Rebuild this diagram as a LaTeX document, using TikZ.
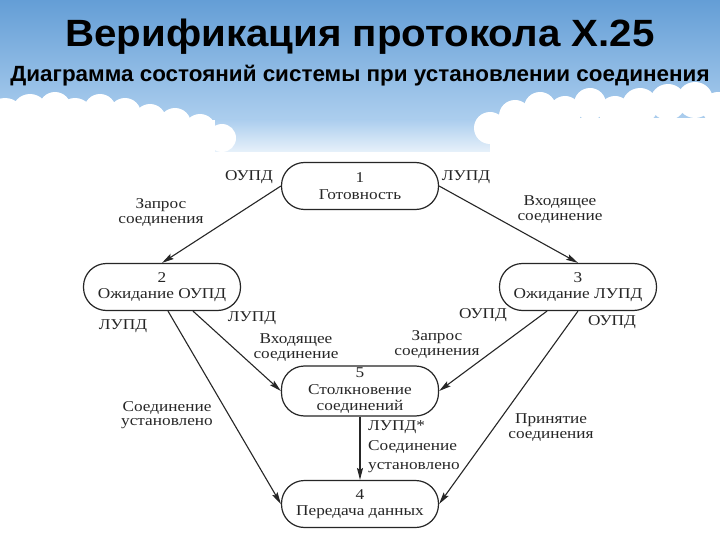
\documentclass[tikz,border=0pt]{standalone}
\usepackage{fontspec}
\setmainfont[FakeStretch=1.15]{Liberation Serif}
\newfontfamily\headfont[FakeStretch=1.06]{Liberation Sans}
\newfontfamily\subheadfont[FakeStretch=1.02]{Liberation Sans}
\usetikzlibrary{arrows.meta, positioning}
\definecolor{skyblue}{RGB}{100,158,214}
\definecolor{skylight}{RGB}{172,206,238}
\definecolor{inkdark}{HTML}{262626}
\tikzset{
  state/.style={rectangle, rounded corners=23pt, minimum width=157pt, minimum height=47pt,
    draw=inkdark, line width=1.2pt, fill=white, inner sep=0pt, align=center,
    font=\fontsize{15}{16.5}\selectfont, text=inkdark},
  lbl/.style={align=center, inner sep=0pt, font=\fontsize{15}{15}\selectfont, text=inkdark},
  arr/.style={-{Stealth[length=12pt, width=6pt, inset=2pt]}, line width=1.1pt, inkdark},
  cloud/.style={fill=white},
}

\begin{document}
\begin{tikzpicture}[x=1pt, y=-1pt]
  \useasboundingbox (0,0) rectangle (720,540);
  % sky and clouds
  \fill[white] (0,0) rectangle (720,540);
  \shade[top color=skyblue, bottom color=skylight] (0,0) rectangle (720,120);
  \shade[top color=skylight, bottom color=white] (0,120) rectangle (720,165);
  \foreach \cx/\cy/\r in {5/118/20, 30/112/18, 55/108/16, 75/116/18, 100/110/16, 125/114/16,
                          150/120/16, 175/124/16, 200/130/16, 222/138/14,
                          490/128/16, 515/116/16, 540/108/16, 565/112/16, 590/104/16, 615/112/16,
                          640/106/18, 668/102/18, 695/100/18, 718/108/16}
    \fill[cloud] (\cx,\cy) circle (\r);
  \fill[cloud] (0,120) rectangle (215,160);
  \fill[cloud] (490,118) rectangle (720,160);
  \fill[white] (0,152) rectangle (720,540);

  \node[anchor=base, font=\headfont\bfseries\fontsize{38}{40}\selectfont] (title) at (360,47) {Верификация протокола X.25};
  \node[anchor=base, font=\subheadfont\bfseries\fontsize{22}{24}\selectfont] (subtitle) at (360,82) {Диаграмма состояний системы при установлении соединения};

  % states
  \node[state] (ready) at (360,186) {1\\Готовность};
  \node[state] (waitout) at (162,287) {2\\Ожидание ОУПД};
  \node[state] (waitin) at (578,287) {3\\Ожидание ЛУПД};
  \node[state, minimum height=50pt] (clash) at (360,391) {5\\Столкновение\\соединений};
  \node[state] (data) at (360,504) {4\\Передача данных};

  % labels
  \node[lbl] (rdyout) at (249,177) {ОУПД};
  \node[lbl] (rdyreq) at (161,212) {Запрос\\соединения};
  \node[lbl] (rdyin) at (466,177) {ЛУПД};
  \node[lbl] (rdyinc) at (560,210) {Входящее\\соединение};
  \node[lbl] (wodone) at (123,326) {ЛУПД};
  \node[lbl] (woin) at (252,318) {ЛУПД};
  \node[lbl] (woinc) at (296,348) {Входящее\\соединение};
  \node[lbl, font=\fontsize{15}{14}\selectfont] (woest) at (167,415) {Соединение\\установлено};
  \node[lbl] (wiout) at (483,315) {ОУПД};
  \node[lbl] (widone) at (612,322) {ОУПД};
  \node[lbl] (wireq) at (437,344) {Запрос\\соединения};
  \node[lbl] (wiacc) at (551,428) {Принятие\\соединения};
  \node[lbl, align=left, anchor=west, font=\fontsize{15}{19.5}\selectfont] (clest) at (368,447) {ЛУПД*\\Соединение\\установлено};

  % transitions
  \draw[arr] (ready.west) -- (waitout.north);
  \draw[arr] (ready.east) -- (waitin.north);
  \draw[arr] ([xshift=31pt]waitout.south) -- (clash.west);
  \draw[arr] ([xshift=6pt]waitout.south) -- (data.west);
  \draw[arr] ([xshift=-31pt]waitin.south) -- (clash.east);
  \draw[arr] (waitin.south) -- (data.east);
  \draw[arr] (clash.south) -- (data.north);
\end{tikzpicture}
\end{document}
